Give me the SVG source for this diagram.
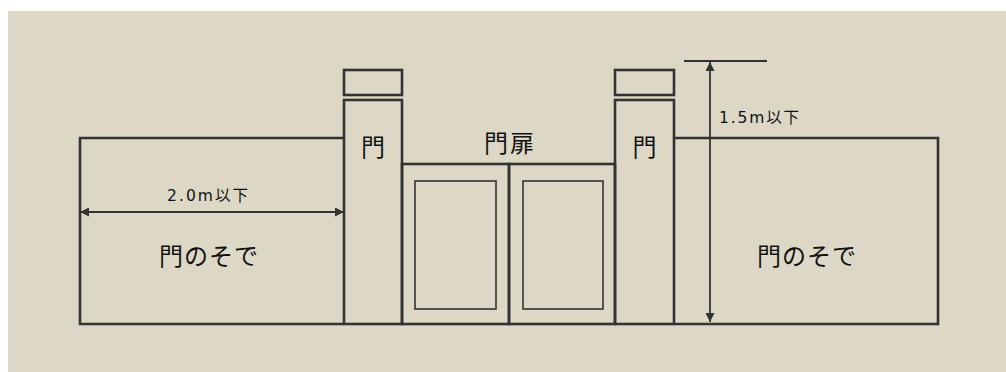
<svg xmlns="http://www.w3.org/2000/svg" width="1006" height="372" viewBox="0 0 1006 372">
<defs>
<style>
.bg{fill:#ddd8c5}
.o{fill:none;stroke:#333;stroke-width:2.6}
.i{fill:none;stroke:#333;stroke-width:1.6}
.d{fill:none;stroke:#333;stroke-width:1.8}
.t{font-family:"Noto Sans CJK JP","Noto Sans",sans-serif;fill:#111}
.big{font-size:24px}
.sm{font-family:"DejaVu Sans","Noto Sans CJK JP",sans-serif;font-size:15.5px}
</style>
<marker id="ah" viewBox="0 0 10 10" refX="10" refY="5" markerWidth="9" markerHeight="9" markerUnits="userSpaceOnUse" orient="auto-start-reverse">
<path d="M0,0 L10,5 L0,10 z" fill="#333"/>
</marker>
</defs>
<rect x="0" y="0" width="1006" height="372" fill="#fff"/>
<rect class="bg" x="8" y="11" width="998" height="361"/>
<g id="left-wall">
<path class="o" d="M344,138 H80 V324 H344"/>
<text class="t big" x="159" y="265" textLength="99" lengthAdjust="spacing">門のそで</text>
</g>
<g id="right-wall">
<path class="o" d="M674,138 H938 V324 H674"/>
<text class="t big" x="757" y="265" textLength="99" lengthAdjust="spacing">門のそで</text>
</g>
<g id="left-pillar">
<rect class="o" x="344" y="70" width="58" height="25"/>
<rect class="o" x="344" y="100" width="58" height="224"/>
<text class="t big" x="373" y="156" text-anchor="middle">門</text>
</g>
<g id="right-pillar">
<rect class="o" x="615" y="70" width="59" height="25"/>
<rect class="o" x="615" y="100" width="59" height="224"/>
<text class="t big" x="644.5" y="156" text-anchor="middle">門</text>
</g>
<g id="gate">
<rect class="o" x="402" y="164" width="107" height="160"/>
<rect class="o" x="509" y="164" width="106" height="160"/>
<rect class="i" x="415" y="181" width="81" height="128"/>
<rect class="i" x="523" y="181" width="80" height="128"/>
<text class="t big" x="484" y="152" textLength="50" lengthAdjust="spacing">門扉</text>
</g>
<g id="connectors">
<line class="d" x1="80" y1="212" x2="344" y2="212" marker-start="url(#ah)" marker-end="url(#ah)"/>
<line class="d" x1="684" y1="61" x2="767" y2="61"/>
<line class="d" x1="710" y1="62" x2="710" y2="322" marker-start="url(#ah)" marker-end="url(#ah)"/>
</g>
<text class="t sm" x="167" y="201" textLength="81" lengthAdjust="spacing">2.0m以下</text>
<text class="t sm" x="719" y="123" textLength="80" lengthAdjust="spacing">1.5m以下</text>
</svg>
